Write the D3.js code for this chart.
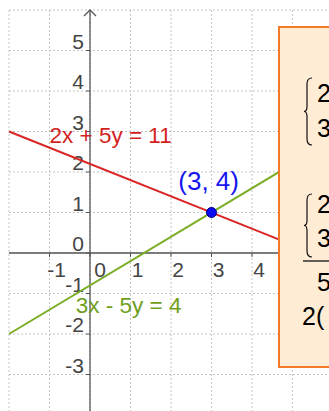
<!DOCTYPE html>
<html>
<head>
<meta charset="utf-8">
<script src="https://cdn.jsdelivr.net/npm/d3@7"></script>
<style>
  body { margin: 0; background: #fff; }
  svg { display: block; font-family: "Liberation Sans", Arial, sans-serif; }
</style>
</head>
<body>
<div id="chart"></div>
<script>
// data
var xTickLabels = [-1, 0, 1, 2, 3, 4];
var yTickLabels = [5, 4, 3, 2, 1, 0, -1, -2, -3];
var gridX = [-2, -1, 0, 1, 2, 3, 4, 5, 6];
var gridY = [6, 5, 4, 3, 2, 1, 0, -1, -2, -3];
var equations = [
  {a: 2, b: 5, c: 11, label: "2x + 5y = 11"},
  {a: 3, b: -5, c: 4, label: "3x - 5y = 4"}
];
var solution = {x: 3, y: 1, label: "(3, 4)"};
var boxLines = ["2", "3", "2", "3", "5", "2("];

var width = 329, height = 411;
var colors = ["#d92626", "#7aad24"];
var labelColors = ["#d41f1f", "#6f9e1c"];

var svg = d3.select("#chart").append("svg")
    .attr("width", width)
    .attr("height", height);

var x = d3.scaleLinear().domain([-2, 6]).range([9, 333]);
var y = d3.scaleLinear().domain([-4, 6]).range([415, 10]);

// dotted grid
svg.append("g").selectAll("line.gx")
    .data(gridX).enter().append("line")
    .attr("x1", d => x(d)).attr("x2", d => x(d))
    .attr("y1", y(6)).attr("y2", height)
    .attr("stroke", "#c4c4c4").attr("stroke-dasharray", "2,2");
svg.append("g").selectAll("line.gy")
    .data(gridY).enter().append("line")
    .attr("x1", x(-2)).attr("x2", width)
    .attr("y1", d => y(d)).attr("y2", d => y(d))
    .attr("stroke", "#c4c4c4").attr("stroke-dasharray", "2,2");

// axes
svg.append("line")
    .attr("x1", x(-2)).attr("x2", width)
    .attr("y1", y(0)).attr("y2", y(0))
    .attr("stroke", "#555").attr("stroke-width", 1.3);
svg.append("line")
    .attr("x1", x(0)).attr("x2", x(0))
    .attr("y1", y(6)).attr("y2", height)
    .attr("stroke", "#555").attr("stroke-width", 1.3);
svg.append("path")
    .attr("d", "M" + (x(0) - 6) + "," + (y(6) + 6) + "L" + x(0) + "," + y(6) + "L" + (x(0) + 6) + "," + (y(6) + 6))
    .attr("fill", "none").attr("stroke", "#555").attr("stroke-width", 1.3);

// small ticks
svg.append("g").selectAll("line")
    .data(yTickLabels).enter().append("line")
    .attr("x1", x(0) - 4).attr("x2", x(0))
    .attr("y1", d => y(d)).attr("y2", d => y(d))
    .attr("stroke", "#555");
svg.append("g").selectAll("line")
    .data(xTickLabels).enter().append("line")
    .attr("x1", d => x(d)).attr("x2", d => x(d))
    .attr("y1", y(0)).attr("y2", y(0) + 4)
    .attr("stroke", "#555");

// tick labels
svg.append("g").selectAll("text")
    .data(yTickLabels).enter().append("text")
    .attr("x", x(0) - 6)
    .attr("y", d => y(d) - 2)
    .attr("text-anchor", "end")
    .attr("font-size", 21)
    .attr("fill", "#444")
    .text(d => d);
svg.append("g").selectAll("text")
    .data(xTickLabels).enter().append("text")
    .attr("x", d => x(d) + (d == 0 ? 10 : 7))
    .attr("y", y(0) + 24)
    .attr("text-anchor", "middle")
    .attr("font-size", 21)
    .attr("fill", "#444")
    .text(d => d);

// the two lines
var lineGen = d3.line().x(d => x(d[0])).y(d => y(d[1]));
equations.forEach(function(e, i) {
  var pts = [-2, 6].map(function(t) { return [t, (e.c - e.a * t) / e.b]; });
  svg.append("path")
      .attr("d", lineGen(pts))
      .attr("fill", "none")
      .attr("stroke", colors[i])
      .attr("stroke-width", 2);
});

// equation labels
svg.append("text")
    .attr("x", x(-1)).attr("y", y(2.72))
    .attr("font-size", 22.5).attr("fill", labelColors[0])
    .text(equations[0].label);
svg.append("text")
    .attr("x", x(-0.35)).attr("y", y(-1.48))
    .attr("font-size", 22.5).attr("fill", labelColors[1])
    .text(equations[1].label);

// solution point
svg.append("circle")
    .attr("cx", x(solution.x)).attr("cy", y(solution.y))
    .attr("r", 5)
    .attr("fill", "#0a0af5").attr("stroke", "#00007a").attr("stroke-width", 1);
svg.append("text")
    .attr("x", x(2.18)).attr("y", y(1.55))
    .attr("font-size", 26).attr("fill", "#1515f0")
    .text(solution.label);

// orange box with the working
var box = svg.append("g");
box.append("rect")
    .attr("x", 279).attr("y", 27)
    .attr("width", 80).attr("height", 340)
    .attr("fill", "#ffecd4")
    .attr("stroke", "#f47a2a").attr("stroke-width", 2);

function brace(bx, y0, y1) {
  var m = (y0 + y1) / 2;
  return "M" + (bx + 8) + "," + y0 +
    "Q" + (bx + 3) + "," + y0 + " " + (bx + 3) + "," + (y0 + 6) +
    "L" + (bx + 3) + "," + (m - 5) +
    "Q" + (bx + 3) + "," + m + " " + bx + "," + m +
    "Q" + (bx + 3) + "," + m + " " + (bx + 3) + "," + (m + 5) +
    "L" + (bx + 3) + "," + (y1 - 6) +
    "Q" + (bx + 3) + "," + y1 + " " + (bx + 8) + "," + y1;
}
[[78, 145], [194, 257]].forEach(function(b) {
  box.append("path").attr("d", brace(304, b[0], b[1]))
      .attr("fill", "none").attr("stroke", "#111").attr("stroke-width", 1.2);
});
box.append("line")
    .attr("x1", 303).attr("x2", width)
    .attr("y1", 261).attr("y2", 261)
    .attr("stroke", "#111").attr("stroke-width", 1.3);

var boxBase = [102, 137, 213, 247, 291, 325];
var boxX = [317, 317, 317, 317, 317, 302];
box.selectAll("text.w")
    .data(boxLines).enter().append("text")
    .attr("x", (d, i) => boxX[i])
    .attr("y", (d, i) => boxBase[i])
    .attr("font-size", 25)
    .attr("fill", "#000")
    .text(d => d);
</script>
</body>
</html>
